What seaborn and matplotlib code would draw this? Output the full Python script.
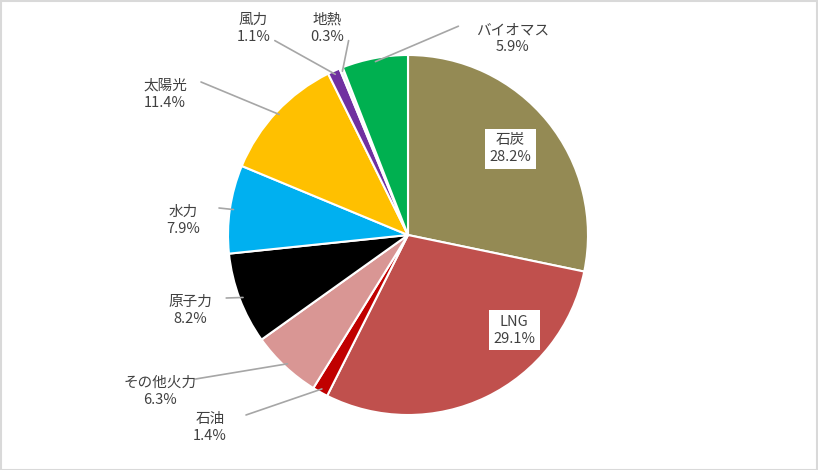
import numpy as np
import matplotlib
matplotlib.use("Agg")
import matplotlib.pyplot as plt
import seaborn as sns

labels = ["石炭", "LNG", "石油", "その他火力", "原子力", "水力", "太陽光", "風力", "地熱", "バイオマス"]
values = [28.2, 29.1, 1.4, 6.3, 8.2, 7.9, 11.4, 1.1, 0.3, 5.9]
colors = ["#948A54", "#C0504D", "#C00000", "#D99694", "#000000",
          "#00B0F0", "#FFC000", "#7030A0", "#F2F2F2", "#00B050"]
# label positions (units of pie radius)
label_pos = [(0.57, 0.48), (0.59, -0.53), (-1.10, -1.07), (-1.38, -0.87),
             (-1.21, -0.42), (-1.25, 0.08), (-1.35, 0.78), (-0.86, 1.15),
             (-0.45, 1.15), (0.58, 1.09)]

sns.set_style("white")
plt.rcParams["font.family"] = ["Noto Sans CJK JP", "DejaVu Sans"]

fig = plt.figure(figsize=(8.18, 4.70), dpi=100)
ax = fig.add_axes([0, 0, 1, 1])
wedges, _ = ax.pie(values, colors=colors, startangle=90, counterclock=False,
                   radius=1.0, wedgeprops=dict(edgecolor="white", linewidth=1.5))
ax.set_xlim(-408 / 180, 410 / 180)
ax.set_ylim(-235 / 180, 235 / 180)
ax.set_aspect("equal")
ax.axis("off")

for i, (w, lab, val) in enumerate(zip(wedges, labels, values)):
    tx, ty = label_pos[i]
    text = f"{lab}\n{val:.1f}%"
    if i < 2:
        ax.text(tx, ty, text, ha="center", va="center", fontsize=10.5, color="#404040",
                linespacing=1.3,
                bbox=dict(boxstyle="square,pad=0.3", fc="white", ec="none"))
        continue
    ang = np.deg2rad((w.theta1 + w.theta2) / 2)
    ex, ey = np.cos(ang), np.sin(ang)
    ax.text(tx, ty, text, ha="center", va="center", fontsize=10.5, color="#404040",
            linespacing=1.3)
    # leader line from wedge edge to label side
    if tx < 0:
        lx = tx + 0.2
    else:
        lx = tx - 0.3
    ly = ty + 0.07
    if i in (7, 8):
        lx, ly = tx + 0.12, ty - 0.07
    ax.plot([ex * 0.98, lx], [ey * 0.98, ly], color="#A6A6A6", lw=1.2)

fig.patches.append(plt.Rectangle((0.001, 0.001), 0.998, 0.997, transform=fig.transFigure,
                                 fill=False, ec="#D9D9D9", lw=1.5))
fig.savefig("out.png", dpi=100)
